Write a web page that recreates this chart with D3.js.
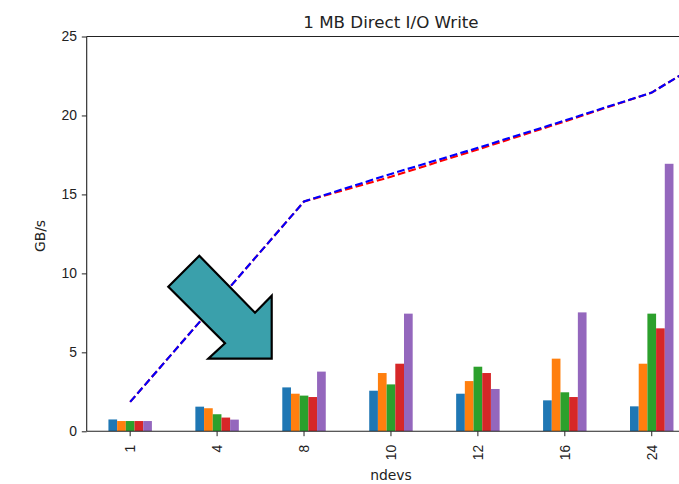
<!DOCTYPE html>
<html>
<head>
<meta charset="utf-8">
<script src="https://cdn.jsdelivr.net/npm/d3@7"></script>
<style>
  body { margin: 0; background: #fff; }
  svg { display: block; font-family: "DejaVu Sans", sans-serif; }
</style>
</head>
<body>
<svg id="Chart"></svg>
<script>
// categories on the x axis (the last one only carries the line, it sits off screen)
let ndevs = ["1", "4", "8", "10", "12", "16", "24", "32"]
let tickLabels = ["1", "4", "8", "10", "12", "16", "24"]
let seriesNames = ["s1", "s2", "s3", "s4", "s5"]
let seriesColors = ["#1f77b4", "#ff7f0e", "#2ca02c", "#d62728", "#9467bd"]

// bar heights (GB/s), one array per series, one value per ndevs
let s1 = [0.75, 1.56, 2.78, 2.57, 2.38, 1.96, 1.58]
let s2 = [0.65, 1.46, 2.38, 3.69, 3.18, 4.60, 4.28]
let s3 = [0.65, 1.08, 2.26, 2.97, 4.09, 2.47, 7.45]
let s4 = [0.65, 0.87, 2.17, 4.28, 3.69, 2.17, 6.52]
let s5 = [0.65, 0.74, 3.78, 7.45, 2.68, 7.53, 16.94]

// the two dashed lines
let redLine  = [1.86, 8.2, 14.55, 16.12, 17.85, 19.62, 21.45, 24.8]
let blueLine = [1.86, 8.2, 14.55, 16.30, 17.95, 19.68, 21.45, 24.8]

let yTicks = [0, 5, 10, 15, 20, 25]

let width = 679, height = 484
let margin = { top: 36.5, left: 86.7, bottom: 53 }
let step = 86.93
let plotRight = margin.left + 7 * step
let plotBottom = height - margin.bottom + 0.3

let svg = d3.select("#Chart").attr("width", width).attr("height", height)

let xScale = d3.scaleBand()
    .domain(ndevs)
    .range([margin.left, margin.left + ndevs.length * step])
    .padding(0)

let subScale = d3.scaleBand()
    .domain(seriesNames)
    .range([-0.25 * step, 0.25 * step])

let yScale = d3.scaleLinear()
    .domain([0, 25])
    .range([plotBottom, margin.top])

svg.append("clipPath").attr("id", "plotClip")
  .append("rect")
    .attr("x", margin.left)
    .attr("y", margin.top)
    .attr("width", plotRight - margin.left)
    .attr("height", plotBottom - margin.top)

let body = svg.append("g").attr("clip-path", "url(#plotClip)")

// bars
let allSeries = [s1, s2, s3, s4, s5]
allSeries.forEach((vals, si) => {
  body.append("g")
    .selectAll("rect")
    .data(vals)
    .enter().append("rect")
      .attr("x", (d, i) => xScale(ndevs[i]) + xScale.bandwidth() / 2 + subScale(seriesNames[si]))
      .attr("width", subScale.bandwidth())
      .attr("y", d => yScale(d))
      .attr("height", d => yScale(0) - yScale(d))
      .attr("fill", seriesColors[si])
})

// dashed lines
let line = d3.line()
    .x((d, i) => xScale(ndevs[i]) + xScale.bandwidth() / 2)
    .y(d => yScale(d))

body.append("path")
    .attr("d", line(redLine))
    .attr("fill", "none")
    .attr("stroke", "#ff0000")
    .attr("stroke-width", 2.1)
    .attr("stroke-dasharray", "7.7,3.3")

body.append("path")
    .attr("d", line(blueLine))
    .attr("fill", "none")
    .attr("stroke", "#0000ff")
    .attr("stroke-width", 2.1)
    .attr("stroke-dasharray", "7.7,3.3")

// axes
let axisX = d3.axisBottom(xScale).tickValues(tickLabels).tickSizeOuter(0).tickSize(4.9).tickPadding(4.9)
let gx = svg.append("g")
    .attr("transform", `translate(0,${plotBottom})`)
    .call(axisX)
gx.select(".domain").remove()
gx.selectAll("text")
    .attr("font-size", 13.9)
    .attr("fill", "#222")
    .attr("text-anchor", "end")
    .attr("transform", "translate(0,13.5) rotate(-90)")
    .attr("x", 0)
    .attr("y", 0)
    .attr("dy", "0.35em")
gx.selectAll("line").attr("stroke", "#222")

let axisY = d3.axisLeft(yScale).tickValues(yTicks).tickSize(4.9).tickPadding(4.9)
let gy = svg.append("g")
    .attr("transform", `translate(${margin.left},0)`)
    .call(axisY)
gy.select(".domain").remove()
gy.selectAll("text").attr("font-size", 13.9).attr("fill", "#222")
gy.selectAll("line").attr("stroke", "#222")

// spines
let spine = svg.append("g").attr("stroke", "#222").attr("stroke-width", 1.1)
spine.append("line").attr("x1", margin.left).attr("x2", margin.left).attr("y1", margin.top).attr("y2", plotBottom)
spine.append("line").attr("x1", margin.left).attr("x2", plotRight).attr("y1", margin.top).attr("y2", margin.top)
spine.append("line").attr("x1", margin.left).attr("x2", plotRight).attr("y1", plotBottom).attr("y2", plotBottom)
spine.append("line").attr("x1", plotRight).attr("x2", plotRight).attr("y1", margin.top).attr("y2", plotBottom)

// title and labels
let midX = (margin.left + plotRight) / 2
svg.append("text")
    .attr("x", midX).attr("y", 27.5)
    .attr("text-anchor", "middle")
    .attr("font-size", 16.7)
    .attr("fill", "#222")
    .text("1 MB Direct I/O Write")

svg.append("text")
    .attr("x", midX).attr("y", 480)
    .attr("text-anchor", "middle")
    .attr("font-size", 13.9)
    .attr("fill", "#222")
    .text("ndevs")

svg.append("text")
    .attr("transform", "translate(45,236) rotate(-90)")
    .attr("text-anchor", "middle")
    .attr("font-size", 13.9)
    .attr("fill", "#222")
    .text("GB/s")

// big arrow annotation
let arrowPts = [[199.3, 255.7], [255, 312.7], [271.7, 295.7], [271.7, 358.7],
                [208.3, 358.7], [225, 343.3], [168.3, 286.7]]
svg.append("polygon")
    .attr("points", arrowPts.map(p => p.join(",")).join(" "))
    .attr("fill", "#3aa0ab")
    .attr("stroke", "#000")
    .attr("stroke-width", 2.2)
    .attr("stroke-linejoin", "miter")
</script>
</body>
</html>
